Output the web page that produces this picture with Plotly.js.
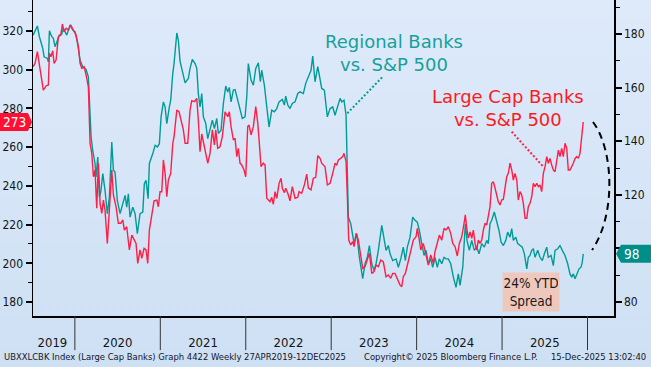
<!DOCTYPE html>
<html>
<head>
<meta charset="utf-8">
<script src="https://cdn.plot.ly/plotly-3.0.1.min.js"></script>
<style>
html,body{margin:0;padding:0;}
body{width:651px;height:367px;overflow:hidden;background:linear-gradient(#deeafa,#cee0f4);}
#chart{width:651px;height:367px;}
</style>
</head>
<body>
<div id="chart"></div>
<script>
// Regional Banks vs S&P 500 (right axis), x in decimal years
const regionalYears = [2019.512,2019.561,2019.585,2019.624,2019.640,2019.678,2019.690,2019.702,2019.730,2019.748,2019.768,2019.795,2019.819,2019.847,2019.865,2019.905,2019.944,2019.975,2020.002,2020.029,2020.061,2020.092,2020.131,2020.158,2020.178,2020.190,2020.209,2020.236,2020.248,2020.268,2020.287,2020.303,2020.327,2020.353,2020.380,2020.404,2020.432,2020.451,2020.470,2020.497,2020.529,2020.561,2020.588,2020.607,2020.626,2020.646,2020.678,2020.705,2020.731,2020.763,2020.795,2020.813,2020.833,2020.857,2020.872,2020.912,2020.939,2020.966,2020.989,2021.009,2021.036,2021.056,2021.076,2021.106,2021.122,2021.146,2021.161,2021.193,2021.211,2021.231,2021.258,2021.290,2021.328,2021.348,2021.375,2021.407,2021.427,2021.445,2021.465,2021.485,2021.504,2021.532,2021.555,2021.582,2021.609,2021.633,2021.661,2021.679,2021.711,2021.738,2021.766,2021.789,2021.808,2021.828,2021.855,2021.875,2021.906,2021.933,2021.960,2021.992,2022.012,2022.030,2022.062,2022.089,2022.117,2022.148,2022.171,2022.187,2022.218,2022.246,2022.273,2022.304,2022.335,2022.363,2022.390,2022.428,2022.452,2022.468,2022.492,2022.518,2022.545,2022.577,2022.609,2022.635,2022.674,2022.702,2022.733,2022.764,2022.784,2022.811,2022.843,2022.870,2022.889,2022.920,2022.955,2022.987,2023.018,2023.045,2023.072,2023.104,2023.124,2023.150,2023.174,2023.189,2023.201,2023.229,2023.252,2023.268,2023.299,2023.330,2023.369,2023.396,2023.423,2023.447,2023.475,2023.502,2023.525,2023.552,2023.592,2023.619,2023.642,2023.669,2023.689,2023.720,2023.759,2023.786,2023.814,2023.844,2023.868,2023.891,2023.923,2023.954,2023.981,2024.008,2024.032,2024.060,2024.087,2024.110,2024.137,2024.165,2024.188,2024.215,2024.242,2024.266,2024.294,2024.321,2024.344,2024.371,2024.399,2024.430,2024.461,2024.488,2024.508,2024.540,2024.555,2024.570,2024.590,2024.617,2024.645,2024.675,2024.703,2024.730,2024.762,2024.792,2024.820,2024.839,2024.859,2024.879,2024.909,2024.937,2024.964,2024.988,2025.015,2025.043,2025.066,2025.093,2025.113,2025.132,2025.160,2025.183,2025.210,2025.237,2025.261,2025.289,2025.307,2025.327,2025.347,2025.366,2025.386,2025.417,2025.444,2025.471,2025.495,2025.523,2025.541,2025.573,2025.600,2025.620,2025.651,2025.678,2025.705,2025.737,2025.768,2025.795,2025.815,2025.834,2025.854,2025.874,2025.901,2025.924,2025.939,2025.950];
const regionalValues = [179.6,183.0,179.0,174.7,171.5,170.9,169.6,181.2,179.0,178.4,175.3,177.8,179.6,180.0,182.1,179.6,183.4,181.5,180.9,177.1,170.3,167.8,166.8,164.0,152.8,141.6,136.6,131.7,126.7,134.1,119.2,121.0,127.9,121.7,113.0,119.2,139.7,129.2,128.5,117.9,113.0,116.7,119.8,115.4,120.4,111.7,115.4,113.0,105.5,113.0,113.6,124.2,125.4,118.6,131.7,135.4,138.5,137.9,139.1,149.1,154.7,152.8,146.6,152.8,155.3,165.3,169.0,180.4,177.6,169.9,165.9,161.8,163.4,167.2,170.5,169.0,167.2,157.8,152.8,157.8,149.1,146.6,141.0,144.1,147.9,144.7,148.5,142.9,144.1,154.1,160.6,158.4,160.1,154.7,159.1,159.3,155.3,151.6,148.5,149.1,156.6,169.0,162.8,160.9,167.2,169.3,162.2,166.5,160.9,152.8,145.3,151.6,151.0,152.2,154.7,155.6,153.5,156.8,153.5,152.2,154.1,154.7,157.8,158.4,157.8,161.6,164.0,166.5,171.8,162.2,167.8,163.4,159.7,159.1,149.1,152.2,152.8,149.7,152.8,156.0,154.7,155.3,149.7,126.7,111.7,109.2,104.2,101.8,105.5,96.7,88.7,94.3,96.7,101.1,94.3,91.8,94.3,99.3,108.6,104.2,99.3,101.1,98.0,95.5,96.1,93.0,96.1,100.5,95.5,100.5,104.2,111.7,110.5,109.8,106.7,101.8,97.4,99.3,94.3,96.1,93.0,96.7,93.0,96.1,94.3,96.7,96.1,96.1,94.3,89.3,85.5,90.5,86.2,93.0,101.8,109.2,102.9,99.3,103.0,99.3,100.5,98.0,101.8,100.5,103.0,101.8,109.2,110.5,113.6,110.5,106.7,102.4,101.1,103.0,106.1,104.2,107.4,103.0,104.2,101.8,101.1,100.5,98.0,92.4,96.7,97.4,99.3,99.9,96.7,99.3,96.7,95.5,98.0,100.5,96.7,97.4,93.6,99.3,99.9,101.1,99.3,97.4,94.3,90.5,89.3,90.5,88.7,90.5,92.4,93.0,94.9,98.0];

// Large Cap Banks vs S&P 500 (left axis)
const largeCapYears = [2019.512,2019.534,2019.561,2019.593,2019.613,2019.631,2019.663,2019.690,2019.702,2019.721,2019.741,2019.757,2019.780,2019.807,2019.835,2019.854,2019.874,2019.897,2019.924,2019.952,2019.982,2020.014,2020.041,2020.061,2020.081,2020.108,2020.131,2020.158,2020.178,2020.198,2020.217,2020.236,2020.256,2020.275,2020.295,2020.315,2020.334,2020.353,2020.380,2020.404,2020.432,2020.451,2020.482,2020.509,2020.537,2020.561,2020.579,2020.607,2020.638,2020.666,2020.693,2020.716,2020.736,2020.763,2020.783,2020.810,2020.833,2020.853,2020.872,2020.900,2020.927,2020.959,2020.977,2020.997,2021.017,2021.036,2021.056,2021.076,2021.094,2021.122,2021.146,2021.161,2021.193,2021.219,2021.243,2021.270,2021.290,2021.321,2021.348,2021.368,2021.399,2021.427,2021.445,2021.465,2021.485,2021.504,2021.532,2021.555,2021.582,2021.609,2021.633,2021.649,2021.672,2021.699,2021.726,2021.758,2021.789,2021.808,2021.828,2021.855,2021.875,2021.895,2021.913,2021.933,2021.953,2021.980,2022.000,2022.023,2022.039,2022.062,2022.089,2022.117,2022.141,2022.156,2022.179,2022.206,2022.226,2022.246,2022.284,2022.304,2022.323,2022.343,2022.363,2022.390,2022.413,2022.428,2022.452,2022.468,2022.492,2022.518,2022.545,2022.577,2022.609,2022.624,2022.655,2022.686,2022.714,2022.733,2022.764,2022.791,2022.819,2022.843,2022.870,2022.889,2022.928,2022.955,2022.987,2023.018,2023.045,2023.065,2023.084,2023.112,2023.135,2023.150,2023.174,2023.189,2023.205,2023.229,2023.252,2023.268,2023.291,2023.318,2023.346,2023.369,2023.396,2023.423,2023.447,2023.475,2023.502,2023.525,2023.552,2023.580,2023.610,2023.642,2023.669,2023.697,2023.720,2023.747,2023.774,2023.806,2023.826,2023.844,2023.868,2023.891,2023.915,2023.943,2023.961,2023.993,2024.008,2024.032,2024.048,2024.078,2024.110,2024.137,2024.165,2024.196,2024.215,2024.242,2024.266,2024.294,2024.321,2024.344,2024.371,2024.399,2024.423,2024.450,2024.476,2024.500,2024.528,2024.555,2024.570,2024.586,2024.605,2024.625,2024.645,2024.664,2024.684,2024.703,2024.722,2024.742,2024.762,2024.781,2024.801,2024.820,2024.839,2024.859,2024.879,2024.898,2024.918,2024.937,2024.956,2024.976,2024.996,2025.015,2025.035,2025.054,2025.073,2025.093,2025.113,2025.132,2025.152,2025.172,2025.190,2025.210,2025.230,2025.249,2025.269,2025.289,2025.307,2025.327,2025.347,2025.366,2025.386,2025.406,2025.424,2025.444,2025.464,2025.483,2025.503,2025.523,2025.541,2025.561,2025.581,2025.600,2025.620,2025.640,2025.659,2025.678,2025.698,2025.717,2025.737,2025.757,2025.775,2025.795,2025.815,2025.834,2025.854,2025.874,2025.892,2025.912,2025.932,2025.950];
const largeCapValues = [301.6,303.3,309.3,299.9,293.8,289.5,291.6,292.1,308.5,306.7,309.8,303.3,305.0,317.1,317.9,323.6,319.6,321.4,320.5,323.1,320.5,317.9,311.9,303.3,300.7,301.6,297.3,291.2,262.0,256.8,244.7,248.2,228.4,251.7,231.0,225.8,232.7,227.5,210.3,227.5,248.2,235.3,229.2,220.7,220.7,222.4,217.2,218.9,206.9,214.6,212.0,210.3,200.0,206.9,202.6,207.8,206.9,200.0,217.2,224.1,232.3,232.7,229.2,237.0,237.0,253.4,246.5,234.4,243.0,246.5,262.0,265.4,279.2,278.3,273.2,268.9,262.0,262.0,279.2,284.0,283.5,285.2,274.0,257.7,266.8,262.0,256.8,251.7,256.8,268.9,261.1,268.9,259.4,260.2,265.4,278.3,275.7,278.3,270.6,263.7,264.6,255.1,259.4,251.7,250.8,248.2,244.7,270.6,271.4,266.3,270.6,280.9,272.3,263.7,249.9,251.7,250.8,233.6,231.8,234.1,230.5,237.0,233.6,241.3,243.9,238.8,236.5,238.8,236.2,232.3,239.6,233.6,234.1,237.0,236.2,240.5,246.1,238.8,237.9,243.9,244.4,255.6,254.2,251.7,249.9,240.5,241.3,246.5,251.7,250.8,253.4,254.2,255.1,256.8,252.5,234.4,212.0,209.5,211.2,208.6,215.5,212.0,203.4,197.4,198.3,201.7,205.2,194.8,195.7,199.1,198.3,201.7,200.8,193.1,194.0,192.3,194.8,194.8,192.3,188.8,187.9,193.1,194.8,200.0,203.4,208.6,212.0,213.7,218.1,212.0,206.9,210.3,203.4,199.1,204.3,200.0,206.0,211.2,214.6,212.0,218.1,217.2,218.9,215.5,210.3,208.6,203.8,210.3,213.7,220.7,225.0,218.2,213.1,216.2,212.9,217.2,210.3,206.9,212.0,210.3,212.0,217.2,220.7,219.8,224.1,229.2,241.3,242.2,238.8,234.4,231.8,230.1,232.7,233.1,239.6,244.7,246.5,251.7,248.2,243.0,246.5,243.0,232.7,237.0,235.3,231.0,223.3,223.3,229.2,231.0,234.4,241.3,239.6,241.3,239.6,240.5,237.0,246.5,249.9,255.1,251.7,254.2,250.8,248.2,247.3,253.4,258.5,255.1,259.4,255.1,262.0,259.4,248.2,248.2,249.9,251.7,254.2,255.1,254.2,256.8,265.4,273.0];

const yearLabels = ['2019','2020','2021','2022','2023','2024','2025'];
const yearLabelAt = [2019.737,2020.5,2021.5,2022.5,2023.5,2024.5,2025.5];
const yearBounds = [2020,2021,2022,2023,2024,2025,2026];
const rightTickVals = [80,100,120,140,160,180];
const rightTickText = ['80','','120','140','160','180'];

const leftRange = [172.8, 336.0];
const rightRange = [74.8, 192.7];
const xRange = [2019.51, 2026.31];

const RED = '#ff1e46';
const TEAL = '#009b96';
const tickFont = {family: 'DejaVu Sans Condensed, DejaVu Sans, sans-serif', size: 12, color: '#151515'};

const traces = [
  {x: regionalYears, y: regionalValues, type: 'scatter', mode: 'lines', yaxis: 'y',
   line: {color: TEAL, width: 1.4}, hoverinfo: 'skip'},
  {x: largeCapYears, y: largeCapValues, type: 'scatter', mode: 'lines', yaxis: 'y2',
   line: {color: RED, width: 1.4}, hoverinfo: 'skip'}
];

const lastRed = largeCapValues[largeCapValues.length - 1];
const lastTeal = regionalValues[regionalValues.length - 1];
const toPaper = (v, r) => (v - r[0]) / (r[1] - r[0]);

const shapes = [];
yearBounds.forEach(b => shapes.push({type: 'line', xref: 'x', yref: 'paper', x0: b, x1: b, y0: 0, y1: -0.108,
  line: {color: '#333', width: 1}}));
// dashed arc
shapes.push({type: 'path', xref: 'x', yref: 'y2', layer: 'above',
  path: 'M2026.064,272.99 C2026.310,258.53 2026.333,224.96 2026.053,206.89',
  line: {color: '#000', width: 2, dash: '7px,5px'}});
// dotted connectors
shapes.push({type: 'line', xref: 'paper', yref: 'paper', x0: 0.541, y0: 0.6415, x1: 0.6019, y1: 0.7573,
  line: {color: TEAL, width: 2, dash: '2px,2px'}});
shapes.push({type: 'line', xref: 'paper', yref: 'paper', x0: 0.8239, y0: 0.5832, x1: 0.8783, y1: 0.4725,
  line: {color: RED, width: 2, dash: '2px,2px'}});
// last value tags
shapes.push({type: 'path', xref: 'paper', yref: 'paper', xsizemode: 'pixel', ysizemode: 'pixel',
  xanchor: 0, yanchor: toPaper(lastRed, leftRange), layer: 'above',
  path: 'M-34,-9 L-5,-9 L-1,0 L-5,9 L-34,9 Z', fillcolor: '#ff1033', line: {width: 0}});
shapes.push({type: 'path', xref: 'paper', yref: 'paper', xsizemode: 'pixel', ysizemode: 'pixel',
  xanchor: 1, yanchor: toPaper(lastTeal, rightRange), layer: 'above',
  path: 'M2,0 L7,-9 L38,-9 L38,9 L7,9 Z', fillcolor: '#008e89', line: {width: 0}});

const footFont = {family: 'DejaVu Sans Condensed, sans-serif', size: 9.4, color: '#141428'};
const annotations = [
  {xref: 'paper', yref: 'paper', x: 0.6208, y: 0.8323, text: 'Regional Banks<br>vs. S&P 500', showarrow: false,
   xanchor: 'center', yanchor: 'middle', font: {family: 'DejaVu Sans, sans-serif', size: 18, color: '#17a09b'}},
  {xref: 'paper', yref: 'paper', x: 0.8167, y: 0.6582, text: 'Large Cap Banks<br>vs. S&P 500', showarrow: false,
   xanchor: 'center', yanchor: 'middle', font: {family: 'DejaVu Sans, sans-serif', size: 18, color: '#ff1a1a'}},
  {xref: 'paper', yref: 'paper', x: 0.8563, y: 0.0769, text: '24% YTD<br>Spread', showarrow: false,
   xanchor: 'center', yanchor: 'middle', bgcolor: '#efc8bd', width: 54, height: 36, borderpad: 1,
   font: {family: 'DejaVu Sans Condensed, DejaVu Sans, sans-serif', size: 13.5, color: '#1a1a1a'}},
  {xref: 'paper', yref: 'y2', x: 0, y: lastRed, xshift: -19, text: String(Math.round(lastRed)), showarrow: false,
   xanchor: 'center', yanchor: 'middle', font: {family: 'DejaVu Sans Condensed, DejaVu Sans, sans-serif', size: 13.5, color: '#fff'}},
  {xref: 'paper', yref: 'y', x: 1, y: lastTeal, xshift: 17, text: String(Math.round(lastTeal)), showarrow: false,
   xanchor: 'center', yanchor: 'middle', font: {family: 'DejaVu Sans Condensed, DejaVu Sans, sans-serif', size: 13.5, color: '#fff'}},
  {xref: 'paper', yref: 'paper', x: -0.0534, y: -0.1297, xanchor: 'left', yanchor: 'middle', showarrow: false,
   text: 'UBXXLCBK Index (Large Cap Banks) Graph 4422 Weekly 27APR2019-12DEC2025', font: footFont},
  {xref: 'paper', yref: 'paper', x: 0.5663, y: -0.1297, xanchor: 'left', yanchor: 'middle', showarrow: false,
   text: 'Copyright© 2025 Bloomberg Finance L.P.', font: footFont},
  {xref: 'paper', yref: 'paper', x: 1.0585, y: -0.1297, xanchor: 'right', yanchor: 'middle', showarrow: false,
   text: '15-Dec-2025 13:02:40', font: footFont}
];

const layout = {
  width: 651, height: 367,
  margin: {l: 33, r: 37, t: 0, b: 51, pad: 0},
  paper_bgcolor: 'rgba(0,0,0,0)', plot_bgcolor: 'rgba(0,0,0,0)',
  showlegend: false,
  xaxis: {range: xRange, showgrid: false, zeroline: false, showline: true, linecolor: '#000', linewidth: 1.5,
    tickmode: 'array', tickvals: yearLabelAt, ticktext: yearLabels, ticks: '', ticklabelstandoff: 14,
    tickfont: {family: 'DejaVu Sans Condensed, DejaVu Sans, sans-serif', size: 13, color: '#151515'}},
  yaxis: {range: rightRange, side: 'right', showgrid: false, zeroline: false, showline: true, linecolor: '#000', linewidth: 1.5,
    tickmode: 'array', tickvals: rightTickVals, ticktext: rightTickText,
    ticks: 'outside', ticklen: 6, tickwidth: 2, tickcolor: '#000', tickfont: tickFont,
    minor: {dtick: 10, ticks: 'outside', ticklen: 4, tickwidth: 1, tickcolor: '#000'}},
  yaxis2: {range: leftRange, side: 'left', overlaying: 'y', showgrid: false, zeroline: false, showline: true, linecolor: '#000', linewidth: 1.5,
    tick0: 0, dtick: 20, ticks: 'outside', ticklen: 6, tickwidth: 2, tickcolor: '#000', tickfont: tickFont,
    minor: {dtick: 10, ticks: 'outside', ticklen: 4, tickwidth: 1, tickcolor: '#000'}},
  shapes: shapes,
  annotations: annotations
};

Plotly.newPlot('chart', traces, layout, {staticPlot: true, displayModeBar: false});
</script>
</body>
</html>
